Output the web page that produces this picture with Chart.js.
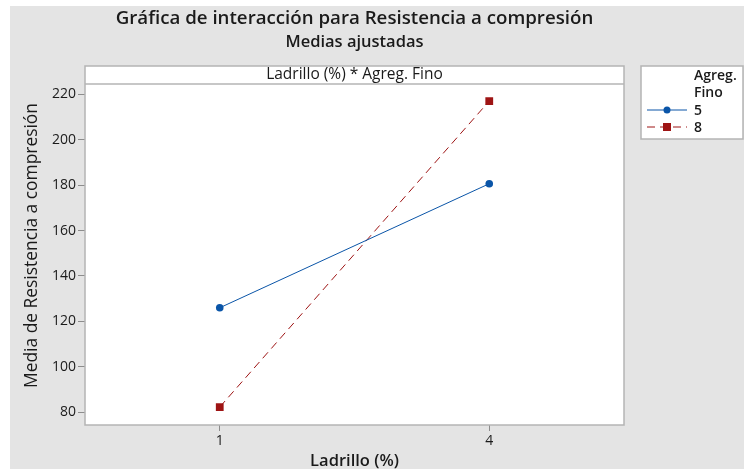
<!DOCTYPE html>
<html>
<head>
<meta charset="utf-8">
<script src="https://cdn.jsdelivr.net/npm/chart.js@4.4.1/dist/chart.umd.min.js"></script>
<style>
  html, body { margin: 0; padding: 0; background: #fff; }
  #wrap { width: 744px; height: 471px; }
</style>
</head>
<body>
<div id="wrap"><canvas id="grafico" width="744" height="471"></canvas></div>
<script>
// datos
const ladrillo = ['1', '4'];
const fino5 = [126.0, 180.6];
const fino8 = [82.3, 217.0];
const yTicks = [80, 100, 120, 140, 160, 180, 200, 220];
const grupos = ['5', '8'];

const azul = '#0a55a8';
const rojo = '#9e1414';
const gris = '#e4e4e4';
const fuente = "'Open Sans', 'Noto Sans', sans-serif";

const fondo = {
  id: 'fondo',
  beforeDraw(chart) {
    const ctx = chart.ctx;
    const a = chart.chartArea;
    ctx.save();
    ctx.fillStyle = '#fff';
    ctx.fillRect(0, 0, chart.width, chart.height);
    ctx.fillStyle = gris;
    ctx.fillRect(10, 6, chart.width - 10, chart.height - 8);
    // marco del grafico con franja de encabezado
    ctx.fillStyle = '#fff';
    ctx.fillRect(a.left, a.top - 18, a.right - a.left, a.bottom - a.top + 18);
    // caja de leyenda
    ctx.fillRect(641, 66, 102, 73);
    ctx.restore();
  },
  afterDraw(chart) {
    const ctx = chart.ctx;
    const a = chart.chartArea;
    const cx = (a.left + a.right) / 2;
    ctx.save();
    ctx.strokeStyle = '#b4b4b4';
    ctx.lineWidth = 1.5;
    ctx.strokeRect(a.left, a.top - 18, a.right - a.left, a.bottom - a.top + 18);
    ctx.beginPath();
    ctx.moveTo(a.left, a.top);
    ctx.lineTo(a.right, a.top);
    ctx.stroke();
    ctx.strokeRect(641, 66, 102, 73);

    ctx.fillStyle = '#1a1a1a';
    ctx.textAlign = 'center';
    ctx.textBaseline = 'middle';
    ctx.font = '600 18.7px ' + fuente;
    ctx.fillText('Gráfica de interacción para Resistencia a compresión', cx, 19);
    ctx.font = '600 16.5px ' + fuente;
    ctx.fillText('Medias ajustadas', cx, 42);
    ctx.font = '15.5px ' + fuente;
    ctx.fillText('Ladrillo (%) * Agreg. Fino', cx, 75);
    ctx.font = '600 16.5px ' + fuente;
    ctx.fillText('Ladrillo (%)', cx, 461);

    ctx.save();
    ctx.translate(32, (a.top - 18 + a.bottom) / 2);
    ctx.rotate(-Math.PI / 2);
    ctx.font = '17.4px ' + fuente;
    ctx.fillText('Media de Resistencia a compresión', 0, 0);
    ctx.restore();

    // leyenda
    ctx.textAlign = 'left';
    ctx.font = '600 14px ' + fuente;
    ctx.fillText('Agreg.', 694, 76);
    ctx.fillText('Fino', 694, 93);
    chart.data.datasets.forEach((ds, i) => {
      const y = 110 + i * 17;
      ctx.strokeStyle = ds.borderColor;
      ctx.lineWidth = 1;
      ctx.setLineDash(ds.borderDash || []);
      ctx.beginPath();
      ctx.moveTo(647, y);
      ctx.lineTo(687, y);
      ctx.stroke();
      ctx.setLineDash([]);
      ctx.fillStyle = ds.pointBackgroundColor;
      if (ds.pointStyle === 'rect') {
        ctx.fillRect(663, y - 4, 8, 8);
      } else {
        ctx.beginPath();
        ctx.arc(667, y, 3.5, 0, Math.PI * 2);
        ctx.fill();
      }
      ctx.fillStyle = '#1a1a1a';
      ctx.fillText(grupos[i], 694, y + 1);
    });
    ctx.restore();
  }
};

new Chart(document.getElementById('grafico').getContext('2d'), {
  type: 'line',
  data: {
    labels: ladrillo,
    datasets: [{
      label: grupos[0],
      data: fino5,
      borderColor: azul,
      borderWidth: 1,
      pointStyle: 'circle',
      pointRadius: 3.8,
      pointBackgroundColor: azul,
      pointBorderColor: azul,
      pointBorderWidth: 0
    }, {
      label: grupos[1],
      data: fino8,
      borderColor: rojo,
      borderWidth: 1,
      borderDash: [8, 5],
      pointStyle: 'rect',
      pointRadius: 5.5,
      pointBackgroundColor: rojo,
      pointBorderColor: rojo,
      pointBorderWidth: 0
    }]
  },
  options: {
    responsive: false,
    animation: false,
    layout: { padding: { top: 84, right: 120, bottom: 0, left: 10 } },
    plugins: { legend: { display: false }, tooltip: { enabled: false } },
    scales: {
      x: {
        type: 'category',
        offset: true,
        afterFit: s => { s.height = 46; },
        grid: { drawOnChartArea: false, tickLength: 6, color: '#8c8c8c' },
        border: { display: false },
        ticks: { color: '#1a1a1a', padding: 2, font: { family: fuente, size: 14 } }
      },
      y: {
        min: 74.4,
        max: 224.5,
        afterFit: s => { s.width = 75; },
        afterBuildTicks: s => { s.ticks = yTicks.map(v => ({ value: v })); },
        grid: { drawOnChartArea: false, tickLength: 7, color: '#8c8c8c' },
        border: { display: false },
        ticks: { color: '#1a1a1a', padding: 2, font: { family: fuente, size: 14 } }
      }
    }
  },
  plugins: [fondo]
});
</script>
</body>
</html>
